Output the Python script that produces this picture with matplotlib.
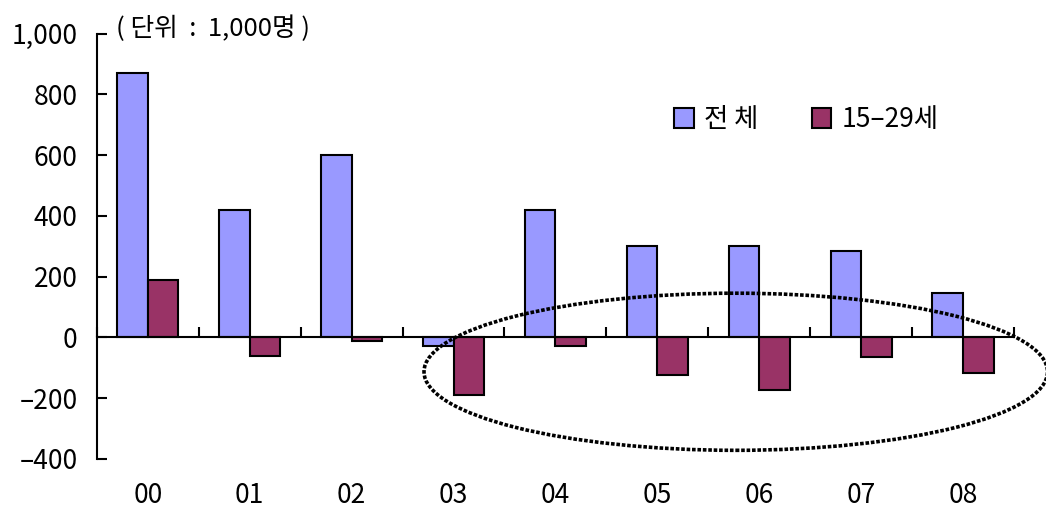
import matplotlib
matplotlib.use("Agg")
import matplotlib.pyplot as plt
from matplotlib.patches import Ellipse
from matplotlib.ticker import FuncFormatter, FixedLocator
import numpy as np

plt.rcParams['font.family'] = ['Noto Sans CJK KR', 'DejaVu Sans']

categories = ['00', '01', '02', '03', '04', '05', '06', '07', '08']
total = [870, 418, 600, -27, 418, 300, 300, 283, 146]
youth = [188, -61, -12, -188, -29, -125, -172, -63, -117]
series_names = ['전 체', '15–29세']
unit_label = '( 단위  :  1,000명 )'

fig = plt.figure(figsize=(10.46, 5.08), dpi=100)
ax = fig.add_axes([0.0927, 0.0965, 0.9763 - 0.0927 - 0.007, 0.934 - 0.0965])

x = np.arange(len(categories))
w = 0.3
ax.bar(x - w / 2, total, w, color='#9999FF', edgecolor='black', linewidth=1.5, label=series_names[0])
ax.bar(x + w / 2, youth, w, color='#993366', edgecolor='black', linewidth=1.5, label=series_names[1])

ax.set_xlim(-0.5, 8.5)
ax.set_ylim(-400, 1000)
ax.set_yticks(np.arange(-400, 1001, 200))
ax.yaxis.set_major_formatter(FuncFormatter(lambda v, p: f"{int(v):,}".replace('-', '–')))

for s in ['top', 'right']:
    ax.spines[s].set_visible(False)
ax.spines['left'].set_linewidth(1.5)
ax.spines['bottom'].set_position(('data', 0))
ax.spines['bottom'].set_linewidth(1.5)

ax.set_xticks(x)
ax.set_xticklabels(categories)
ax.xaxis.set_minor_locator(FixedLocator(np.arange(-0.5, 8.6, 1)))
ax.tick_params(axis='x', which='major', length=0, pad=104, labelsize=19)
ax.tick_params(axis='x', which='minor', direction='in', length=7, width=1.5)
ax.tick_params(axis='y', direction='in', length=7, width=1.5, pad=14, labelsize=19)

ax.text(0.021, 1.01, unit_label, transform=ax.transAxes, fontsize=18.5, va='center', ha='left')

leg = ax.legend(loc='upper left', bbox_to_anchor=(0.615, 0.86), ncol=2, frameon=False,
                fontsize=19, handlelength=0.75, handleheight=0.75, handletextpad=0.4,
                columnspacing=2.0, borderpad=0)

ell = Ellipse((5.77, -113), 6.12, 517, fill=False, edgecolor='black', linestyle=(0, (1, 0.5)),
              linewidth=2.6, clip_on=False)
ax.add_patch(ell)

fig.savefig('out.png', dpi=100)
